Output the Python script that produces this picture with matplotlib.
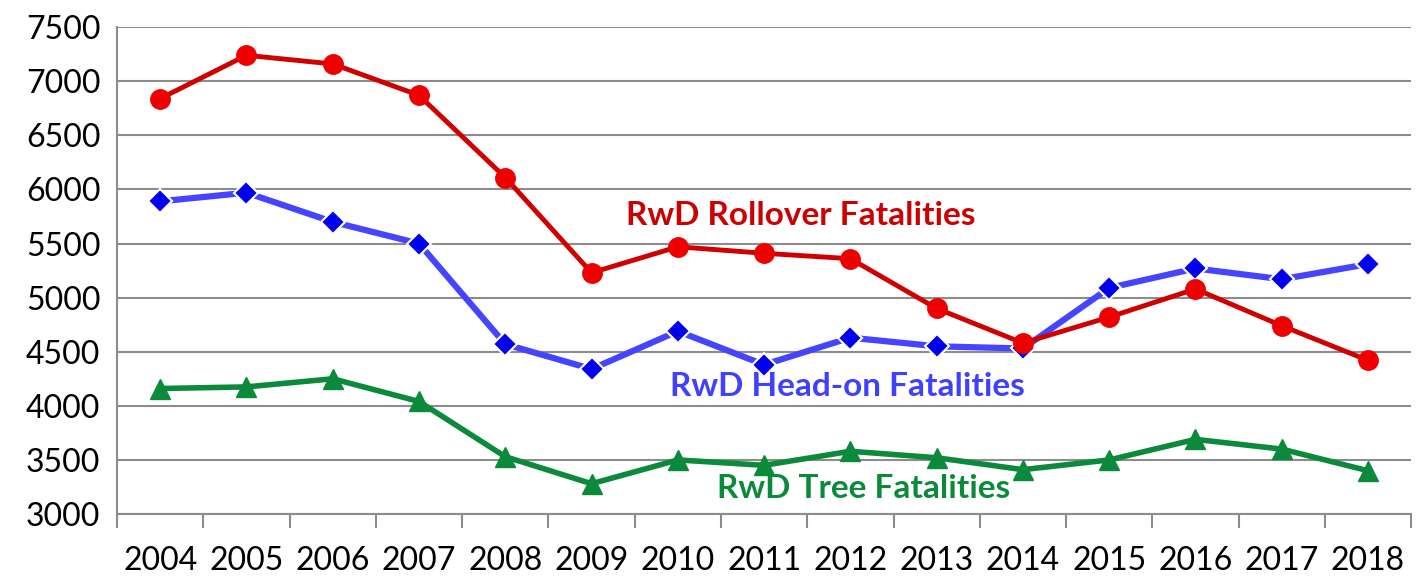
import numpy as np
import matplotlib
matplotlib.use("Agg")
import matplotlib.pyplot as plt

plt.rcParams['font.family'] = ['Lato', 'DejaVu Sans']

years = [str(y) for y in range(2004, 2019)]
rollover = [6840, 7240, 7160, 6870, 6110, 5230, 5470, 5410, 5360, 4900, 4580, 4820, 5080, 4740, 4420]
head_on = [5890, 5970, 5700, 5500, 4570, 4340, 4690, 4380, 4630, 4550, 4530, 5090, 5270, 5170, 5310]
tree = [4160, 4175, 4250, 4040, 3530, 3280, 3500, 3450, 3580, 3520, 3410, 3500, 3690, 3600, 3400]

fig = plt.figure(figsize=(14.24, 5.78), dpi=100)
ax = fig.add_axes([0.0822, 0.1107, 0.9088, 0.8423])
x = np.arange(len(years))

ax.plot(x, tree, color='#0b8a3c', lw=4, marker='^', ms=15, mfc='#0b8a3c', mec='#0b8a3c', zorder=3)
ax.plot(x, head_on, color='#4545ff', lw=4.5, marker='D', ms=12, mfc='#0000ee', mec='white', mew=1.5, zorder=4)
ax.plot(x, rollover, color='#d00000', lw=3.5, marker='o', ms=14, mfc='#ee0000', mec='#ee0000', zorder=5)

ax.set_xlim(-0.5, len(years) - 0.5)
ax.set_ylim(3000, 7500)
ax.set_yticks(np.arange(3000, 7501, 500))
ax.yaxis.grid(True, color='#8c8c8c', lw=1.5)
ax.set_axisbelow(True)

ax.set_xticks(np.arange(-0.5, len(years), 1.0))
ax.set_xticklabels([])
ax.set_xticks(x, minor=True)
ax.set_xticklabels(years, minor=True)
ax.tick_params(axis='x', which='major', length=10, width=1.5, color='#8c8c8c', direction='out')
ax.tick_params(axis='x', which='minor', length=0, pad=23, labelsize=23)
ax.tick_params(axis='y', length=0, pad=12, labelsize=23)

for s in ['top', 'right']:
    ax.spines[s].set_visible(False)
for s in ['left', 'bottom']:
    ax.spines[s].set_color('#8c8c8c')
    ax.spines[s].set_linewidth(1.5)

ax.text(7.43, 5763, 'RwD Rollover Fatalities', color='#cc0000', fontsize=24, fontweight='bold', ha='center', va='center')
ax.text(7.97, 4183, 'RwD Head-on Fatalities', color='#4040ff', fontsize=24, fontweight='bold', ha='center', va='center')
ax.text(8.15, 3240, 'RwD Tree Fatalities', color='#0b8a3c', fontsize=24, fontweight='bold', ha='center', va='center')

fig.savefig('out.png', dpi=100)
